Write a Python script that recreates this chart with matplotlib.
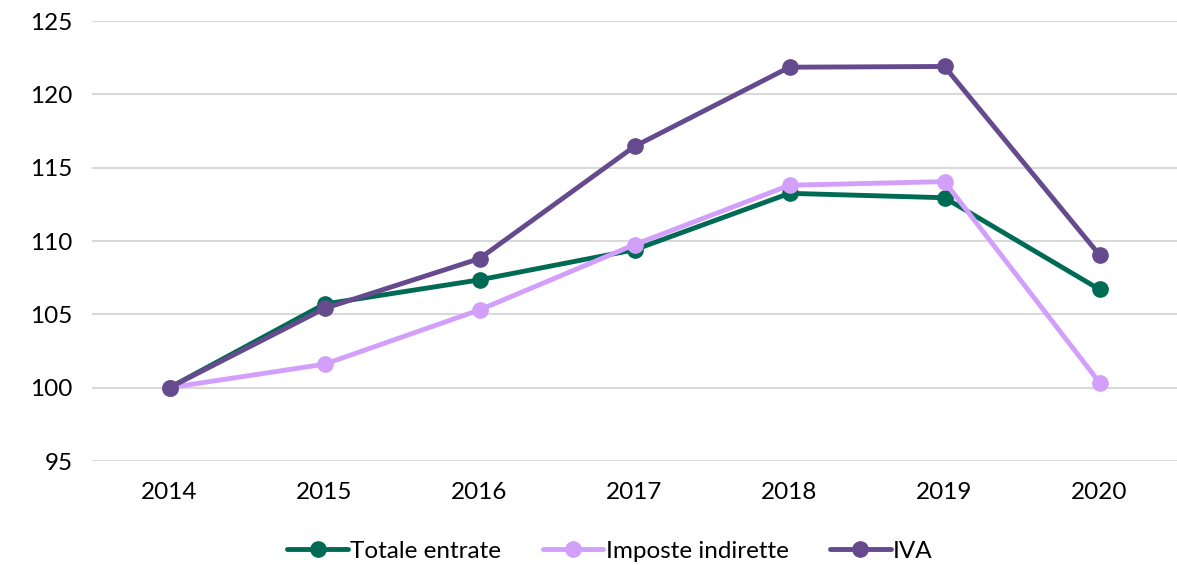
"""Indici delle entrate (2014 = 100): totale, imposte indirette e IVA."""
import matplotlib
matplotlib.use("Agg")
import matplotlib.pyplot as plt

# Dati
anni = ["2014", "2015", "2016", "2017", "2018", "2019", "2020"]
totale_entrate = [100.0, 105.7, 107.35, 109.4, 113.25, 112.95, 106.7]
imposte_indirette = [100.0, 101.6, 105.3, 109.75, 113.8, 114.05, 100.35]
iva = [100.0, 105.4, 108.8, 116.45, 121.85, 121.9, 109.05]

y_ticks = [95, 100, 105, 110, 115, 120, 125]

_GREEN = "#006B54"
_LILAC = "#D29FFA"
_PURPLE = "#654A8E"
_GRID = "#D9D9D9"

plt.rcParams["font.family"] = ["Lato", "DejaVu Sans"]

fig = plt.figure(figsize=(11.77, 5.65), dpi=100)
ax = fig.add_axes([92 / 1177, 1 - 461 / 565, (1177 - 92) / 1177, (461 - 21) / 565])

x = range(len(anni))
series = [
    ("Totale entrate", totale_entrate, _GREEN),
    ("Imposte indirette", imposte_indirette, _LILAC),
    ("IVA", iva, _PURPLE),
]
for label, values, color in series:
    ax.plot(x, values, color=color, lw=3.5, marker="o", ms=11,
            label=label, solid_capstyle="round", zorder=3)

ax.set_xlim(-0.5, len(anni) - 0.5)
ax.set_ylim(95, 125)
ax.set_xticks(list(x))
ax.set_xticklabels(anni)
ax.set_yticks(y_ticks)
ax.tick_params(axis="both", length=0, labelsize=17.5, colors="#000000")
ax.tick_params(axis="x", pad=15)
ax.tick_params(axis="y", pad=14)
ax.grid(axis="y", color=_GRID, lw=1.5)
ax.set_axisbelow(True)
for s in ax.spines.values():
    s.set_visible(False)

fig.legend(loc="center", bbox_to_anchor=(610 / 1177, 1 - 551 / 565), ncol=3,
           frameon=False, fontsize=17.5, handlelength=2.5, handletextpad=0.1,
           columnspacing=1.7, borderaxespad=0)

fig.savefig("out.png", dpi=100)
